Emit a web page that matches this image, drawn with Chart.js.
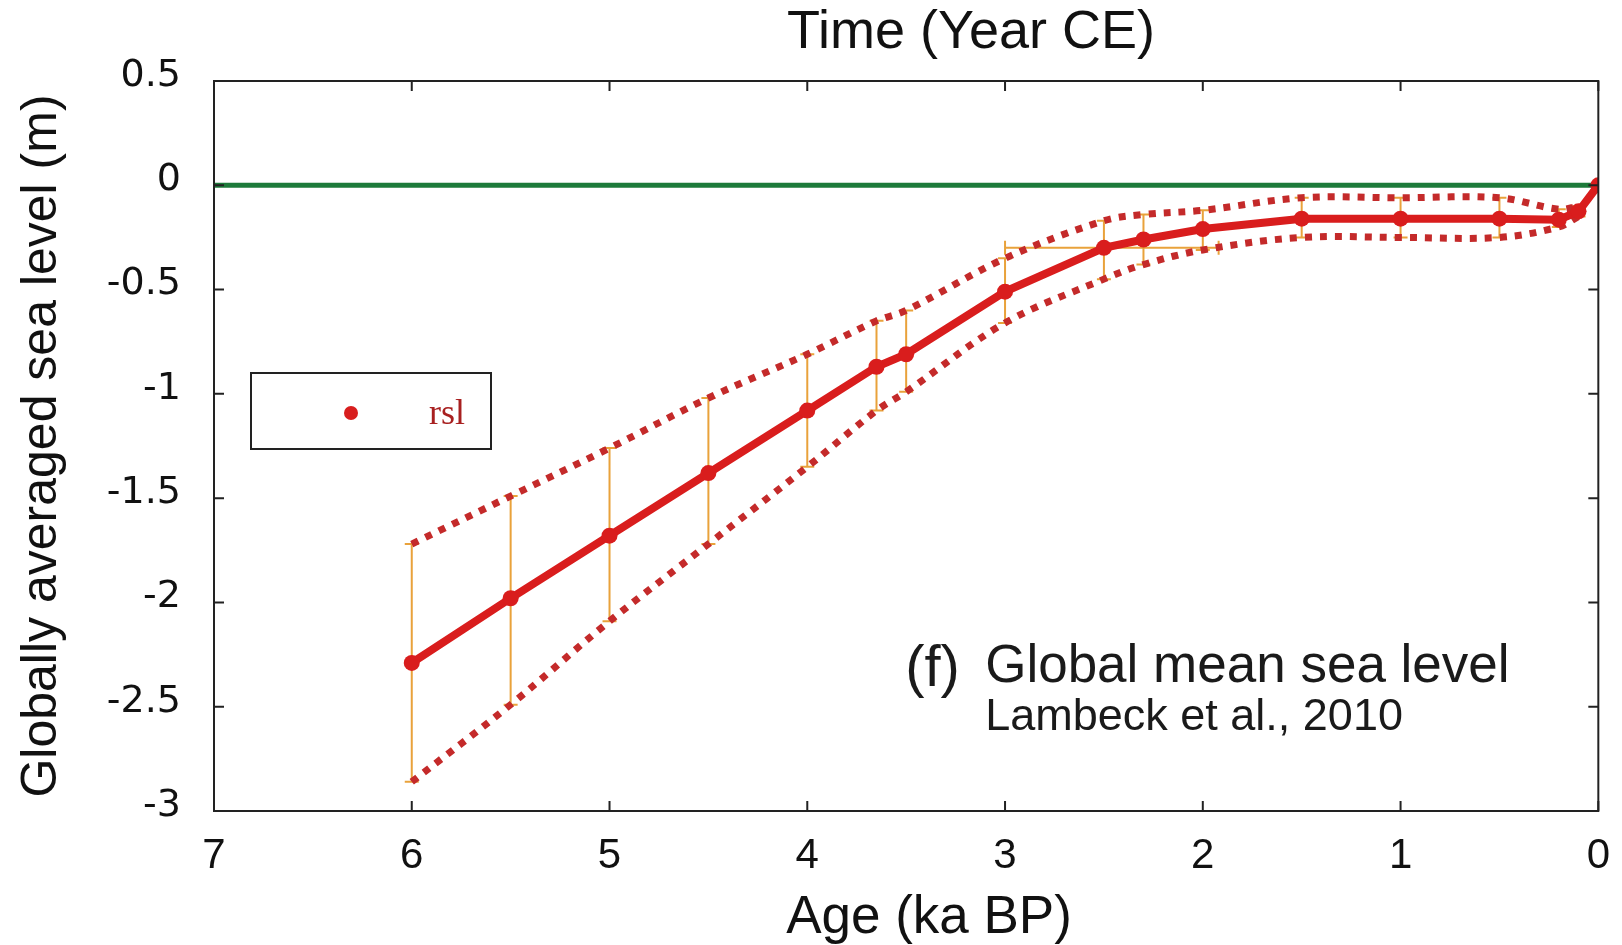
<!DOCTYPE html>
<html>
<head>
<meta charset="utf-8">
<script src="https://cdn.jsdelivr.net/npm/chart.js@4.4.0/dist/chart.umd.min.js"></script>
<style>
    body { margin: 0; background: #fff; }
    #wrap { width: 1622px; height: 945px; }
</style>
</head>
<body>
<div id="wrap"><canvas id="chart_rsl"></canvas></div>
<script>
// ages in ka BP and globally averaged sea level (m)
var age_ka = [6, 5.5, 5, 4.5, 4, 3.65, 3.5, 3, 2.5, 2.3, 2, 1.5, 1, 0.5, 0.2, 0.1, 0]
var rsl = [-2.29, -1.98, -1.68, -1.38, -1.08, -0.87, -0.81, -0.51, -0.30, -0.26, -0.21, -0.16, -0.16, -0.16, -0.165, -0.125, 0]
var rsl_upper = [-1.72, -1.49, -1.26, -1.02, -0.81, -0.65, -0.60, -0.35, -0.17, -0.14, -0.12, -0.06, -0.06, -0.06, -0.115, -0.10, null]
var rsl_lower = [-2.86, -2.49, -2.09, -1.72, -1.35, -1.08, -0.99, -0.66, -0.45, -0.38, -0.31, -0.25, -0.25, -0.25, -0.20, -0.15, null]
// horizontal age error (only the 2.5 ka point has one)
var age_err_old = [null, null, null, null, null, null, null, null, 3.0, null, null, null, null, null, null, null, null]
var age_err_young = [null, null, null, null, null, null, null, null, 1.92, null, null, null, null, null, null, null, null]
// present-day reference level
var ref_age = [7, 0]
var ref_level = [0, 0]

var x_tick_values = [7, 6, 5, 4, 3, 2, 1, 0]
var x_tick_labels = ['7', '6', '5', '4', '3', '2', '1', '0']
var y_tick_values = [0.5, 0, -0.5, -1, -1.5, -2, -2.5, -3]
var y_tick_labels = ['0.5', '0', '-0.5', '-1', '-1.5', '-2', '-2.5', '-3']

function pairs(xs, ys) {
    return xs.map(function (x, i) {
        return { x: x, y: ys[i] }
    })
}

function tick_label(values, labels, v) {
    for (var i = 0; i < values.length; i++) {
        if (Math.abs(values[i] - v) < 1e-6) {
            return labels[i]
        }
    }
    return ''
}

var rsl_decor = {
    id: 'rsl_decor',
    beforeDatasetsDraw: function (chart) {
        var ctx = chart.ctx
        var xs = chart.scales.x
        var ys = chart.scales.y
        ctx.save()
        ctx.strokeStyle = '#e9a23b'
        ctx.lineWidth = 2
        ctx.beginPath()
        age_ka.forEach(function (a, i) {
            if (rsl_upper[i] == null) {
                return
            }
            var px = xs.getPixelForValue(a)
            var top = ys.getPixelForValue(rsl_upper[i])
            var bot = ys.getPixelForValue(rsl_lower[i])
            ctx.moveTo(px, top)
            ctx.lineTo(px, bot)
            ctx.moveTo(px - 7, top)
            ctx.lineTo(px + 7, top)
            ctx.moveTo(px - 7, bot)
            ctx.lineTo(px + 7, bot)
            if (age_err_old[i] != null) {
                var py = ys.getPixelForValue(rsl[i])
                var x1 = xs.getPixelForValue(age_err_old[i])
                var x2 = xs.getPixelForValue(age_err_young[i])
                ctx.moveTo(x1, py)
                ctx.lineTo(x2, py)
                ctx.moveTo(x1, py - 7)
                ctx.lineTo(x1, py + 7)
                ctx.moveTo(x2, py - 7)
                ctx.lineTo(x2, py + 7)
            }
        })
        ctx.stroke()
        ctx.restore()
    },
    afterDraw: function (chart) {
        var ctx = chart.ctx
        var area = chart.chartArea
        var xs = chart.scales.x
        var ys = chart.scales.y
        ctx.save()
        // frame and inward ticks
        ctx.strokeStyle = '#222'
        ctx.lineWidth = 2
        ctx.strokeRect(area.left, area.top, area.right - area.left, area.bottom - area.top)
        ctx.beginPath()
        xs.ticks.forEach(function (t) {
            var px = xs.getPixelForValue(t.value)
            ctx.moveTo(px, area.bottom)
            ctx.lineTo(px, area.bottom - 10)
            ctx.moveTo(px, area.top)
            ctx.lineTo(px, area.top + 10)
        })
        ys.ticks.forEach(function (t) {
            var py = ys.getPixelForValue(t.value)
            ctx.moveTo(area.left, py)
            ctx.lineTo(area.left + 10, py)
            ctx.moveTo(area.right, py)
            ctx.lineTo(area.right - 10, py)
        })
        ctx.stroke()

        // axis titles (placed off-centre as in the original figure)
        ctx.fillStyle = '#111'
        ctx.textAlign = 'center'
        ctx.textBaseline = 'middle'
        ctx.font = '54px "Liberation Sans", sans-serif'
        ctx.fillText('Time (Year CE)', area.left + 757, 33)
        ctx.font = '53px "Liberation Sans", sans-serif'
        ctx.fillText('Age (ka BP)', area.left + 715, 918)

        // legend box
        ctx.textAlign = 'left'
        ctx.textBaseline = 'alphabetic'
        var lx = area.left + 37
        var ly = area.top + 292
        ctx.lineWidth = 2
        ctx.strokeStyle = '#222'
        ctx.strokeRect(lx, ly, 240, 76)
        ctx.fillStyle = '#d81e1e'
        ctx.beginPath()
        ctx.arc(lx + 100, ly + 40, 7, 0, Math.PI * 2)
        ctx.fill()
        ctx.fillStyle = '#a82020'
        ctx.font = '36px "Liberation Serif", serif'
        ctx.fillText('rsl', lx + 178, ly + 51)

        // panel annotation
        var ax = xs.getPixelForValue(3.505)
        var ay = ys.getPixelForValue(-2.39)
        ctx.fillStyle = '#1a1a1a'
        ctx.font = '58px "Liberation Sans", sans-serif'
        ctx.fillText('(f)', ax, ay + 2)
        ctx.font = '53px "Liberation Sans", sans-serif'
        ctx.fillText('Global mean sea level', ax + 80, ay - 2)
        ctx.font = '45px "Liberation Sans", sans-serif'
        ctx.fillText('Lambeck et al., 2010', ax + 80, ay + 46)
        ctx.restore()
    }
}

var chart_rsl = new Chart(document.getElementById('chart_rsl'), {
    type: 'line',
    data: {
        datasets: [
            {
                label: 'rsl',
                data: pairs(age_ka, rsl),
                borderColor: '#d91d1d',
                backgroundColor: '#d91d1d',
                borderWidth: 8,
                pointRadius: 8,
                pointBorderWidth: 0,
                tension: 0,
                order: 0
            },
            {
                label: 'upper',
                data: pairs(age_ka, rsl_upper),
                borderColor: '#c42a2a',
                borderWidth: 7,
                borderDash: [7, 8],
                pointRadius: 0,
                tension: 0.35,
                order: 1
            },
            {
                label: 'lower',
                data: pairs(age_ka, rsl_lower),
                borderColor: '#c42a2a',
                borderWidth: 7,
                borderDash: [7, 8],
                pointRadius: 0,
                tension: 0.35,
                order: 1
            },
            {
                label: 'present',
                data: pairs(ref_age, ref_level),
                borderColor: '#1d7a3a',
                borderWidth: 5,
                pointRadius: 0,
                order: 2
            }
        ]
    },
    options: {
        responsive: true,
        maintainAspectRatio: false,
        animation: false,
        layout: { padding: 0 },
        scales: {
            x: {
                type: 'linear',
                position: 'bottom',
                reverse: true,
                min: 0,
                max: 7,
                afterFit: function (s) { s.height = 134 },
                grid: { display: false },
                border: { display: false },
                ticks: {
                    stepSize: 1,
                    padding: 12,
                    color: '#111',
                    font: { family: '"Liberation Sans Narrow", "Liberation Sans", sans-serif', size: 42 },
                    callback: function (value) {
                        return tick_label(x_tick_values, x_tick_labels, value)
                    }
                },
                title: { display: false }
            },
            xTop: {
                type: 'linear',
                position: 'top',
                reverse: true,
                min: 0,
                max: 7,
                afterFit: function (s) { s.height = 81 },
                grid: { display: false },
                border: { display: false },
                ticks: { display: false }
            },
            y: {
                type: 'linear',
                position: 'left',
                min: -3,
                max: 0.5,
                afterFit: function (s) { s.width = 214 },
                grid: { display: false },
                border: { display: false },
                ticks: {
                    stepSize: 0.5,
                    padding: 25,
                    labelOffset: -5,
                    color: '#111',
                    font: { family: '"DejaVu Sans", sans-serif', size: 38 },
                    callback: function (value) {
                        return tick_label(y_tick_values, y_tick_labels, value)
                    }
                },
                title: {
                    display: true,
                    text: 'Globally averaged sea level (m)',
                    color: '#111',
                    font: { family: '"Liberation Sans", sans-serif', size: 50, lineHeight: 1 },
                    padding: { top: 17, bottom: 0 }
                }
            },
            y2: {
                type: 'linear',
                position: 'right',
                min: -3,
                max: 0.5,
                afterFit: function (s) { s.width = 14 },
                grid: { display: false },
                border: { display: false },
                ticks: { display: false }
            }
        },
        plugins: {
            legend: { display: false },
            tooltip: { enabled: false }
        }
    },
    plugins: [rsl_decor]
})
</script>
</body>
</html>
